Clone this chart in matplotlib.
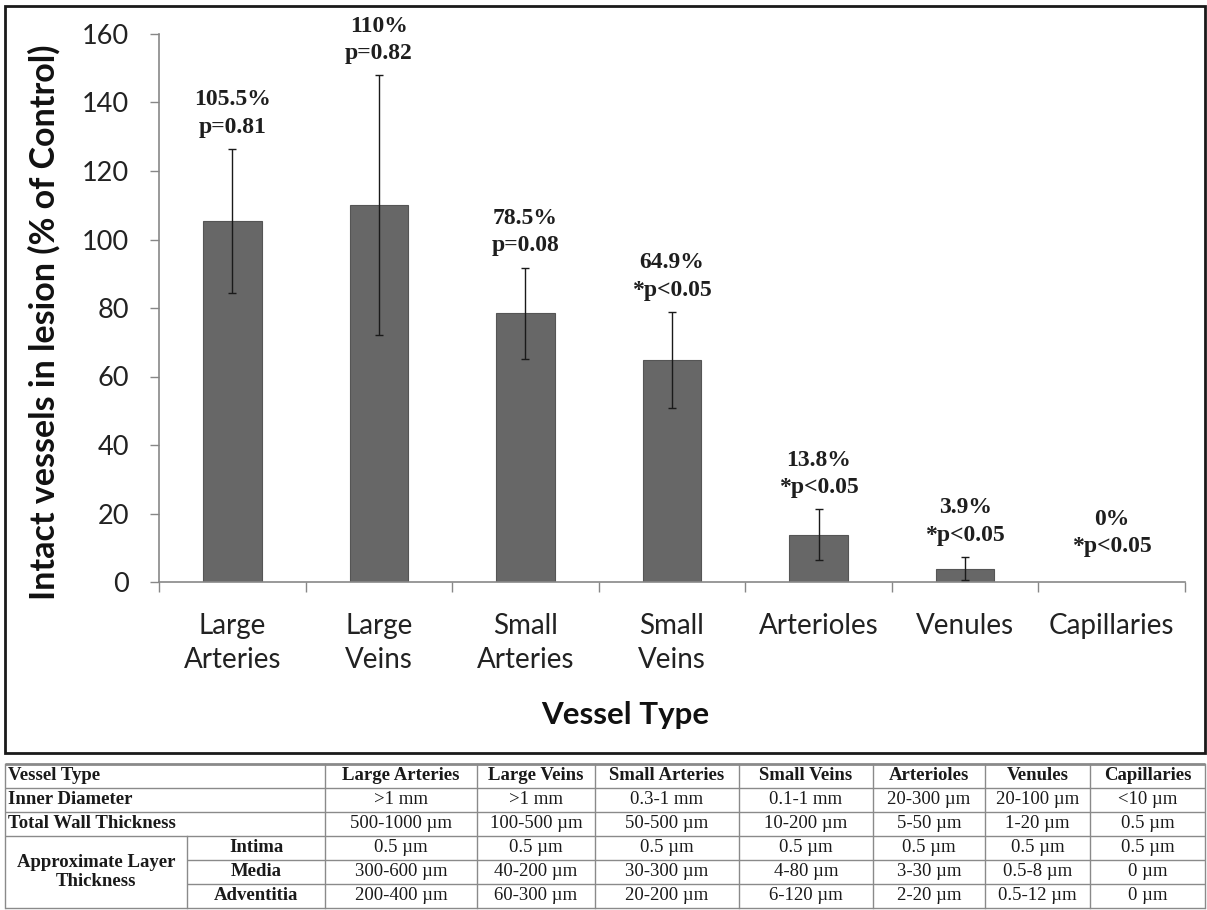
import matplotlib
matplotlib.use("Agg")
import matplotlib.pyplot as plt
from matplotlib.patches import Rectangle

# ---- data -------------------------------------------------------------
categories = ["Large\nArteries", "Large\nVeins", "Small\nArteries", "Small\nVeins",
              "Arterioles", "Venules", "Capillaries"]
intact_pct = [105.5, 110.0, 78.5, 64.9, 13.8, 3.9, 0.0]
intact_err = [21.0, 38.0, 13.3, 14.0, 7.5, 3.4, 0.0]
p_labels = ["p=0.81", "p=0.82", "p=0.08", "*p<0.05", "*p<0.05", "*p<0.05", "*p<0.05"]
pct_labels = ["105.5%", "110%", "78.5%", "64.9%", "13.8%", "3.9%", "0%"]
y_ticks = [0, 20, 40, 60, 80, 100, 120, 140, 160]

table_header = ["Large Arteries", "Large Veins", "Small Arteries", "Small Veins",
                "Arterioles", "Venules", "Capillaries"]
inner_diameter = [">1 mm", ">1 mm", "0.3-1 mm", "0.1-1 mm", "20-300 µm", "20-100 µm", "<10 µm"]
wall_thickness = ["500-1000 µm", "100-500 µm", "50-500 µm", "10-200 µm", "5-50 µm", "1-20 µm", "0.5 µm"]
intima = ["0.5 µm"] * 7
media = ["300-600 µm", "40-200 µm", "30-300 µm", "4-80 µm", "3-30 µm", "0.5-8 µm", "0 µm"]
adventitia = ["200-400 µm", "60-300 µm", "20-200 µm", "6-120 µm", "2-20 µm", "0.5-12 µm", "0 µm"]

# ---- figure -----------------------------------------------------------
W, H = 1207, 910
fig = plt.figure(figsize=(W / 100, H / 100), dpi=100)
fig.patch.set_facecolor("white")

sans = ["Lato", "DejaVu Sans"]
serif = ["Liberation Serif", "DejaVu Serif"]
axis_grey = "#878787"

# chart frame
fig.patches.append(Rectangle((5 / W, 1 - 753 / H), 1200 / W, 747 / H,
                             transform=fig.transFigure, fill=False,
                             edgecolor="#1a1a1a", linewidth=2.0))

ax = fig.add_axes([159 / W, 1 - 582 / H, (1185 - 159) / W, (582 - 34) / H])
x = list(range(len(categories)))
edge_cols = ["#555555" if v > 0 else "none" for v in intact_pct]
ax.bar(x, intact_pct, width=0.4, color="#676767", edgecolor=edge_cols, linewidth=0.8, zorder=2)

# error bars only where there is a spread to show
shown = [i for i in x if intact_err[i] > 0]
ax.errorbar([x[i] for i in shown], [intact_pct[i] for i in shown],
            yerr=[intact_err[i] for i in shown], fmt="none", ecolor="#1a1a1a",
            elinewidth=1.0, capsize=3.0, capthick=1.0, zorder=3)

ax.set_xlim(-0.5, len(categories) - 0.5)
ax.set_ylim(0, 160)
ax.set_yticks(y_ticks)
ax.set_yticklabels([str(v) for v in y_ticks], fontfamily=sans, fontsize=19.5, color="#222222")
ax.tick_params(axis="y", direction="out", length=6.5, width=1, color=axis_grey, pad=15)

# boundary ticks between categories, labels at category centres
ax.set_xticks([i - 0.5 for i in range(len(categories) + 1)])
ax.set_xticklabels([])
ax.tick_params(axis="x", which="major", direction="out", length=7, width=1, color=axis_grey)
ax.set_xticks(x, minor=True)
ax.set_xticklabels(categories, minor=True, fontfamily=sans, fontsize=20,
                   color="#222222", linespacing=1.4)
ax.tick_params(axis="x", which="minor", length=0, pad=22)

for side in ("top", "right"):
    ax.spines[side].set_visible(False)
for side in ("left", "bottom"):
    ax.spines[side].set_color(axis_grey)
    ax.spines[side].set_linewidth(1.2)

label_gap = [8, 8, 8, 8, 8, 8, 18]
for i in x:
    ax.annotate(f"{pct_labels[i]}\n{p_labels[i]}", xy=(i, intact_pct[i] + intact_err[i]),
                xytext=(0, label_gap[i]), textcoords="offset points",
                ha="center", va="bottom", fontfamily=serif, fontweight="bold",
                fontsize=17, color="#1e1e1e", linespacing=1.4)

fig.text(44 / W, 1 - 322 / H, "Intact vessels in lesion (% of Control)", rotation=90,
         ha="center", va="center", fontfamily=sans, fontweight="bold", fontsize=24.5,
         color="#111111")
fig.text(625 / W, 1 - 715 / H, "Vessel Type", ha="center", va="center",
         fontfamily=sans, fontweight="bold", fontsize=22.5, color="#111111")

# ---- vessel dimension table --------------------------------------------
tax = fig.add_axes([0, 0, 1, 1])
tax.set_xlim(0, W)
tax.set_ylim(H, 0)
tax.axis("off")

col_edges = [325, 477, 595, 739, 873, 985, 1090, 1205]
row_edges = [764, 788, 812, 836, 860, 884, 908]
left, split = 5, 187
line_c = "#8a8a8a"
fs_t = 13.5

for k, yy in enumerate(row_edges):
    x0 = split if k in (4, 5) else left
    tax.plot([x0, col_edges[-1]], [yy, yy], color=line_c,
             lw=2.0 if k == 0 else 1.0, solid_capstyle="butt")
tax.plot([left, left], [row_edges[0], row_edges[-1]], color=line_c, lw=1.0)
for xx in col_edges:
    tax.plot([xx, xx], [row_edges[0], row_edges[-1]], color=line_c, lw=1.0)
tax.plot([split, split], [row_edges[3], row_edges[-1]], color=line_c, lw=1.0)

centers_x = [(col_edges[j] + col_edges[j + 1]) / 2 for j in range(len(table_header))]
row_mid = [(row_edges[k] + row_edges[k + 1]) / 2 for k in range(6)]

def cell(xc, yc, s, bold=False, ha="center"):
    tax.text(xc, yc, s, ha=ha, va="center", fontfamily=serif, fontsize=fs_t,
             fontweight="bold" if bold else "normal", color="#1a1a1a")

for j, name in enumerate(table_header):
    cell(centers_x[j], row_mid[0], name, bold=True)
for k, values in enumerate([inner_diameter, wall_thickness, intima, media, adventitia], start=1):
    for j, v in enumerate(values):
        cell(centers_x[j], row_mid[k], v)

cell(8, row_mid[0], "Vessel Type", bold=True, ha="left")
cell(8, row_mid[1], "Inner Diameter", bold=True, ha="left")
cell(8, row_mid[2], "Total Wall Thickness", bold=True, ha="left")
tax.text((left + split) / 2, (row_edges[3] + row_edges[6]) / 2, "Approximate Layer\nThickness",
         ha="center", va="center", fontfamily=serif, fontsize=fs_t, fontweight="bold",
         color="#1a1a1a", linespacing=1.2)
for k, name in zip((3, 4, 5), ("Intima", "Media", "Adventitia")):
    cell((split + col_edges[0]) / 2, row_mid[k], name, bold=True)

fig.savefig("out.png", dpi=100, facecolor="white")
